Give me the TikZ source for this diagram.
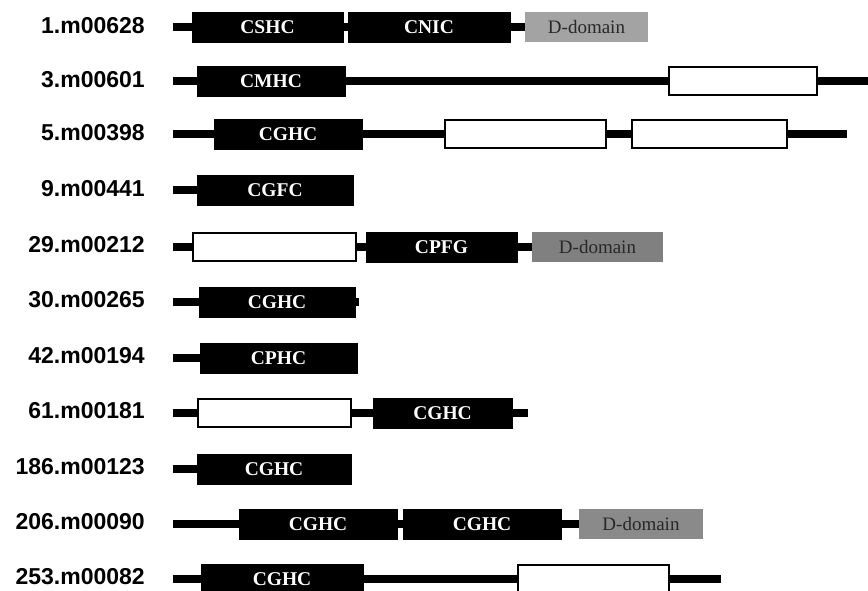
\documentclass[tikz,border=0pt]{standalone}
\usepackage{fontspec}
\setmainfont{Liberation Serif}
\newfontfamily\labelfont{Liberation Sans}
\definecolor{ddA}{RGB}{163,163,163}
\definecolor{ddB}{RGB}{128,128,128}
\definecolor{ddC}{RGB}{138,138,138}
\definecolor{ddtext}{RGB}{40,40,40}
\begin{document}
\begin{tikzpicture}[x=1pt,y=-1pt,
  lab/.style={anchor=east,inner sep=0pt,font=\labelfont\bfseries\fontsize{23}{25}\selectfont},
  blk/.style={fill=black,draw=black,line width=0.6pt,inner sep=0pt,minimum height=30pt,
    text=white,font=\bfseries\fontsize{19.5}{21}\selectfont},
  wht/.style={fill=white,draw=black,line width=2pt,inner sep=0pt,minimum height=28pt},
  dom/.style={inner sep=0pt,minimum height=30pt,text=ddtext,font=\fontsize{19}{21}\selectfont},
  bb/.style={line width=8pt,line cap=butt}]
\useasboundingbox (0,0) rectangle (868,591);

% gene names
\node[lab] (l1)  at (145,26)  {1.m00628};
\node[lab] (l2)  at (145,80)  {3.m00601};
\node[lab] (l3)  at (145,133) {5.m00398};
\node[lab] (l4)  at (145,189) {9.m00441};
\node[lab] (l5)  at (145,245) {29.m00212};
\node[lab] (l6)  at (145,300) {30.m00265};
\node[lab] (l7)  at (145,356) {42.m00194};
\node[lab] (l8)  at (145,411) {61.m00181};
\node[lab] (l9)  at (145,467) {186.m00123};
\node[lab] (l10) at (145,522) {206.m00090};
\node[lab] (l11) at (145,577) {253.m00082};

% row 1
\coordinate (s1) at (173,27);
\node[blk,minimum width=151pt] (r1a) at (267.5,27) {CSHC};
\node[blk,minimum width=162pt] (r1b) at (429,27) {CNIC};
\node[dom,fill=ddA,minimum width=123pt] (r1c) at (586.5,27) {D-domain};
\draw[bb] (s1) -- (r1a.west) (r1a.east) -- (r1b.west) (r1b.east) -- (r1c.west);

% row 2
\coordinate (s2) at (173,81);
\coordinate (e2) at (868,81);
\node[blk,minimum width=148pt] (r2a) at (271,81) {CMHC};
\node[wht,minimum width=148pt] (r2b) at (743,81) {};
\draw[bb] (s2) -- (r2a.west) (r2a.east) -- (r2b.west) (r2b.east) -- (e2);

% row 3
\coordinate (s3) at (173,134);
\coordinate (e3) at (847,134);
\node[blk,minimum width=148pt] (r3a) at (288,134) {CGHC};
\node[wht,minimum width=161pt] (r3b) at (525.5,134) {};
\node[wht,minimum width=155pt] (r3c) at (709.5,134) {};
\draw[bb] (s3) -- (r3a.west) (r3a.east) -- (r3b.west) (r3b.east) -- (r3c.west) (r3c.east) -- (e3);

% row 4
\coordinate (s4) at (173,190);
\node[blk,minimum width=156pt] (r4a) at (275,190) {CGFC};
\draw[bb] (s4) -- (r4a.west);

% row 5
\coordinate (s5) at (173,247);
\node[wht,minimum width=163pt] (r5a) at (274.5,247) {};
\node[blk,minimum width=151pt] (r5b) at (441.5,247) {CPFG};
\node[dom,fill=ddB,minimum width=131pt] (r5c) at (597.5,247) {D-domain};
\draw[bb] (s5) -- (r5a.west) (r5a.east) -- (r5b.west) (r5b.east) -- (r5c.west);

% row 6
\coordinate (s6) at (173,302);
\coordinate (e6) at (359,302);
\node[blk,minimum width=156pt] (r6a) at (277,302) {CGHC};
\draw[bb] (s6) -- (r6a.west) (r6a.east) -- (e6);

% row 7
\coordinate (s7) at (173,358);
\node[blk,minimum width=157pt] (r7a) at (278.5,358) {CPHC};
\draw[bb] (s7) -- (r7a.west);

% row 8
\coordinate (s8) at (173,413);
\coordinate (e8) at (528,413);
\node[wht,minimum width=153pt] (r8a) at (274.5,413) {};
\node[blk,minimum width=139pt] (r8b) at (442.5,413) {CGHC};
\draw[bb] (s8) -- (r8a.west) (r8a.east) -- (r8b.west) (r8b.east) -- (e8);

% row 9
\coordinate (s9) at (173,469);
\node[blk,minimum width=154pt] (r9a) at (274,469) {CGHC};
\draw[bb] (s9) -- (r9a.west);

% row 10
\coordinate (s10) at (173,524);
\node[blk,minimum width=158pt] (r10a) at (318,524) {CGHC};
\node[blk,minimum width=158pt] (r10b) at (482,524) {CGHC};
\node[dom,fill=ddC,minimum width=124pt] (r10c) at (641,524) {D-domain};
\draw[bb] (s10) -- (r10a.west) (r10a.east) -- (r10b.west) (r10b.east) -- (r10c.west);

% row 11
\coordinate (s11) at (173,579);
\coordinate (e11) at (721,579);
\node[blk,minimum width=162pt] (r11a) at (282,579) {CGHC};
\node[wht,minimum width=151pt] (r11b) at (593.5,579) {};
\draw[bb] (s11) -- (r11a.west) (r11a.east) -- (r11b.west) (r11b.east) -- (e11);
\end{tikzpicture}
\end{document}
